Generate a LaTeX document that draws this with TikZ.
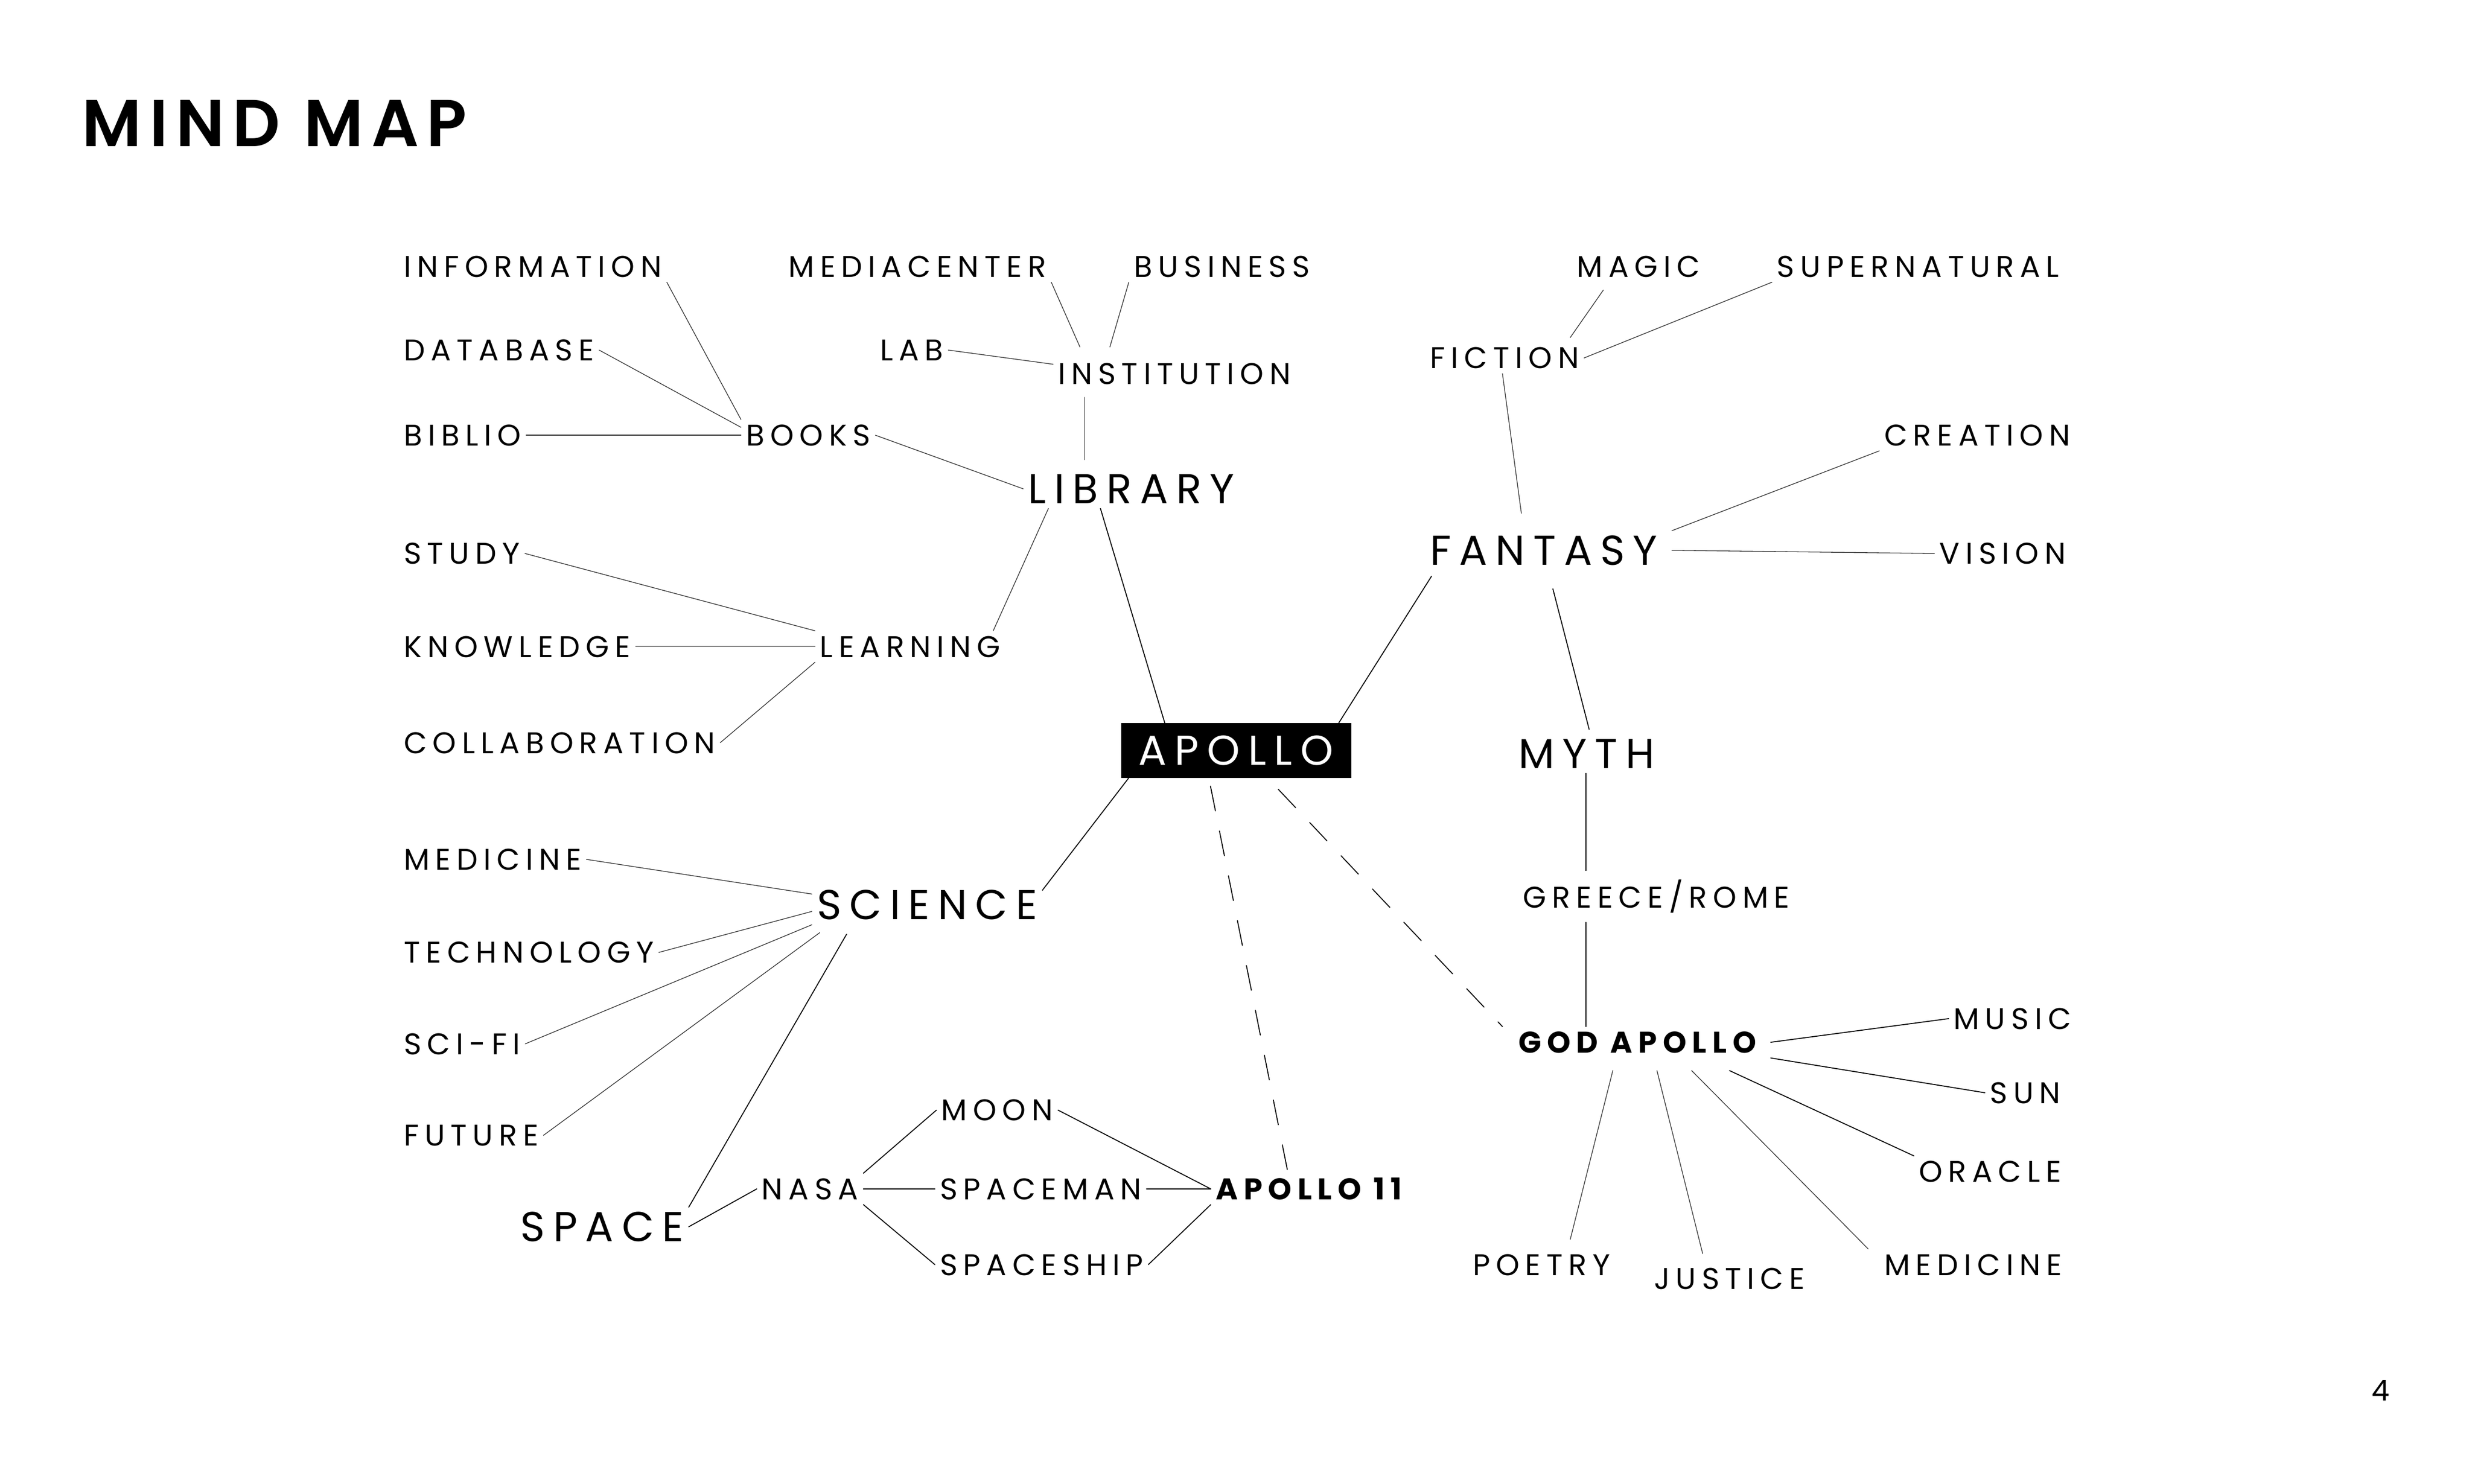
\documentclass[tikz,border=0pt]{standalone}
\usepackage{fontspec}
\setmainfont{Poppins}
\newfontfamily\mapfont[LetterSpace=19.5]{Poppins}
\IfFontExistsTF{Poppins SemiBold}
    {\newfontfamily\headfont[LetterSpace=12]{Poppins SemiBold}}
    {\newfontfamily\headfont[LetterSpace=6]{Poppins}}

\begin{document}
\begin{tikzpicture}[
            x = 1pt, y = -1pt, % one unit = one pixel of the slide
            line cap = round
        ]

        \tikzstyle{every node}=[
            font = \mapfont,
            inner sep = 3pt,
            anchor = west,
            text depth = 0pt
        ]
        \tikzstyle{leaf}=[font = \mapfont\fontsize{19}{19}\selectfont, text height = 13.5pt]
        \tikzstyle{hub}=[font = \mapfont\fontsize{26.5}{26.5}\selectfont, text height = 18.5pt]
        \tikzstyle{key}=[font = \mapfont\bfseries\fontsize{19}{19}\selectfont, text height = 13.5pt]
        \tikzstyle{link}=[draw = black, line width = 0.6pt]
        \tikzstyle{twig}=[draw = black!80, line width = 0.45pt]
        \tikzstyle{hint}=[link, dash pattern = on 16pt off 13pt]

        \fill[white] (0,0) rectangle (1568,940.8);
        \useasboundingbox (0,0) rectangle (1568,940.8);

        \node[font = \headfont\fontsize{42}{42}\selectfont, text height = 29.6pt, inner sep = 0pt] (title) at (52,78) {MIND MAP};
        \node[font = \fontsize{18}{18}\selectfont, anchor = center, inner sep = 0pt] (page) at (1510,882) {4};

        % centre
        \node[hub, anchor = center, fill = black, text = white, minimum width = 146pt, minimum height = 34.7pt, inner sep = 0pt] (apollo) at (784,476) {APOLLO};

        % library side
        \node[leaf] (info) at (253,169) {INFORMATION};
        \node[leaf] (media) at (497,169) {MEDIACENTER};
        \node[leaf] (business) at (716,169) {BUSINESS};
        \node[leaf] (database) at (253,222) {DATABASE};
        \node[leaf] (lab) at (555,222) {LAB};
        \node[leaf] (inst) at (668,237) {INSTITUTION};
        \node[leaf] (biblio) at (253,276) {BIBLIO};
        \node[leaf] (books) at (470,276) {BOOKS};
        \node[hub] (library) at (649,310) {LIBRARY};
        \node[leaf] (study) at (253,351) {STUDY};
        \node[leaf] (knowledge) at (253,410) {KNOWLEDGE};
        \node[leaf] (learning) at (517,410) {LEARNING};
        \node[leaf] (collab) at (253,471) {COLLABORATION};

        % fantasy side
        \node[leaf] (magic) at (997,169) {MAGIC};
        \node[leaf] (super) at (1124,169) {SUPERNATURAL};
        \node[leaf] (fiction) at (904,227) {FICTION};
        \node[leaf] (creation) at (1192,276) {CREATION};
        \node[hub] (fantasy) at (904,349) {FANTASY};
        \node[leaf] (vision) at (1227,351) {VISION};
        \node[hub] (myth) at (960,478) {MYTH};
        \node[leaf] (greece) at (963,569) {GREECE/ROME};
        \node[key] (god) at (960,661) {GOD APOLLO};
        \node[leaf] (music) at (1236,646) {MUSIC};
        \node[leaf] (sun) at (1259,693) {SUN};
        \node[leaf] (oracle) at (1214,743) {ORACLE};
        \node[leaf] (medr) at (1192,802) {MEDICINE};
        \node[leaf] (justice) at (1046,811) {JUSTICE};
        \node[leaf] (poetry) at (931,802) {POETRY};

        % science side
        \node[leaf] (medl) at (253,545) {MEDICINE};
        \node[hub] (science) at (515,574) {SCIENCE};
        \node[leaf] (tech) at (253,604) {TECHNOLOGY};
        \node[leaf] (scifi) at (253,662) {SCI-FI};
        \node[leaf] (future) at (253,720) {FUTURE};
        \node[hub] (space) at (327,778) {SPACE};
        \node[leaf] (nasa) at (480,754) {NASA};
        \node[leaf] (moon) at (594,704) {MOON};
        \node[leaf] (spaceman) at (593,754) {SPACEMAN};
        \node[leaf] (spaceship) at (593,802) {SPACESHIP};
        \node[key] (apollo11) at (768,754) {APOLLO 11};

        % library branch
        \draw[twig] (info.south east) -- (books.north west);
        \draw[twig] (database.east) -- ([yshift=5pt]books.west);
        \draw[twig] (biblio.east) -- (books.west);
        \draw[twig] (books.east) -- (library.west);
        \draw[twig] (media.south east) -- ([xshift=17pt,yshift=7pt]inst.north west);
        \draw[twig] (business.south west) -- ([xshift=36pt,yshift=7pt]inst.north west);
        \draw[twig] (lab.east) -- ([yshift=6pt]inst.west);
        \draw[twig] ([xshift=20pt,yshift=-5pt]inst.south west) -- ([xshift=39pt,yshift=6pt]library.north west);
        \draw[twig] ([xshift=16pt]library.south west) -- ([xshift=113pt]learning.north west);
        \draw[twig] (study.east) -- (learning.north west);
        \draw[twig] (knowledge.east) -- (learning.west);
        \draw[twig] (collab.east) -- (learning.south west);
        \draw[link] ([xshift=49pt]library.south west) -- ([xshift=28pt]apollo.north west);

        % fantasy branch
        \draw[link] ([xshift=-8pt]apollo.north east) -- ([xshift=4pt,yshift=-4pt]fantasy.south west);
        \draw[twig] ([xshift=61pt,yshift=11pt]fantasy.north west) -- ([xshift=49pt]fiction.south west);
        \draw[twig] ([xshift=92pt,yshift=3pt]fiction.north west) -- ([xshift=20pt,yshift=-5pt]magic.south west);
        \draw[twig] (fiction.east) -- (super.south west);
        \draw[twig] ([xshift=6pt]fantasy.north east) -- (creation.south west);
        \draw[twig] ([xshift=6pt]fantasy.east) -- (vision.west);
        \draw[link] ([xshift=81pt,yshift=-12pt]fantasy.south west) -- ([xshift=48pt,yshift=3pt]myth.north west);
        \draw[link] ([xshift=46pt]myth.south west) -- ([xshift=43pt,yshift=7pt]greece.north west);
        \draw[link] ([xshift=43pt,yshift=-6pt]greece.south west) -- ([xshift=46pt]god.north west);

        % god apollo branch
        \draw[hint] ([xshift=100pt,yshift=-7pt]apollo.south west) -- ([xshift=-7pt]god.north west);
        \draw[link] ([xshift=6pt]god.east) -- (music.west);
        \draw[link] ([xshift=6pt]god.south east) -- (sun.west);
        \draw[link] ([xshift=137pt,yshift=-8pt]god.south west) -- (oracle.north west);
        \draw[twig] ([xshift=113pt,yshift=-8pt]god.south west) -- ([xshift=-7pt]medr.north west);
        \draw[twig] ([xshift=91pt,yshift=-8pt]god.south west) -- ([xshift=34pt,yshift=6pt]justice.north west);
        \draw[twig] ([xshift=63pt,yshift=-8pt]god.south west) -- ([xshift=65pt,yshift=6pt]poetry.north west);

        % science branch
        \draw[link] ([xshift=5pt]apollo.south west) -- ([yshift=-3pt]science.north east);
        \draw[twig] (medl.east) -- ([yshift=7pt]science.west);
        \draw[twig] (tech.east) -- ([yshift=-4pt]science.west);
        \draw[twig] (scifi.east) -- (science.south west);
        \draw[twig] (future.east) -- ([xshift=5pt,yshift=-5pt]science.south west);
        \draw[link] ([xshift=22pt,yshift=-6pt]science.south west) -- (space.north east);
        \draw[link] (space.east) -- (nasa.west);
        \draw[link] (nasa.north east) -- (moon.west);
        \draw[link] (nasa.east) -- (spaceman.west);
        \draw[link] (nasa.south east) -- (spaceship.west);
        \draw[link] (moon.east) -- (apollo11.west);
        \draw[link] (spaceman.east) -- (apollo11.west);
        \draw[link] (spaceship.east) -- (apollo11.south west);
        \draw[hint] ([xshift=57pt,yshift=-5pt]apollo.south west) -- ([xshift=49pt]apollo11.north west);

  \end{tikzpicture}
\end{document}
